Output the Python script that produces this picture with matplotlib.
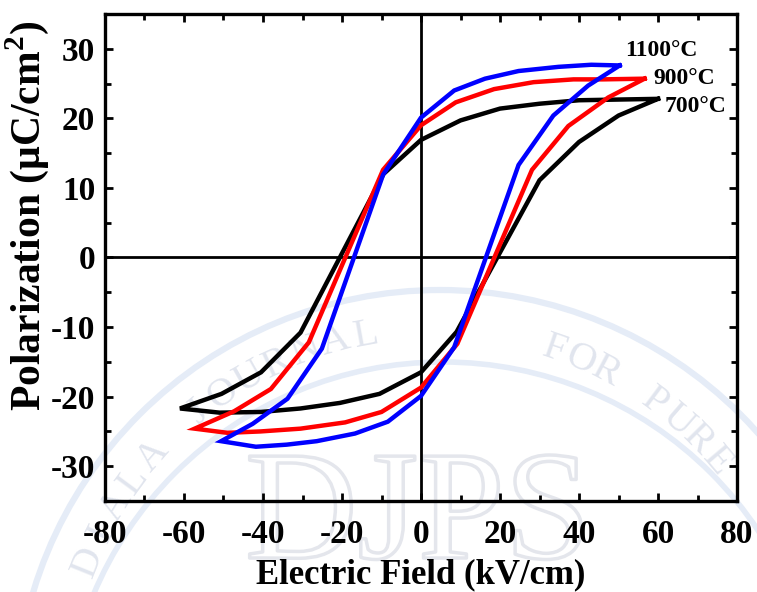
import numpy as np
import matplotlib
matplotlib.use("Agg")
import matplotlib.pyplot as plt
from matplotlib.ticker import MultipleLocator
from matplotlib.patches import Ellipse
import matplotlib.patheffects as pe

plt.rcParams['font.family'] = ['Liberation Serif', 'DejaVu Serif']
plt.rcParams['font.weight'] = 'bold'
plt.rcParams['axes.unicode_minus'] = False
plt.rcParams['mathtext.fontset'] = 'custom'
plt.rcParams['mathtext.rm'] = 'Liberation Serif:bold'
plt.rcParams['mathtext.bf'] = 'Liberation Serif:bold'

# Series data (closed hysteresis loops)
labels = ['700°C', '900°C', '1100°C']
colors = ['black', 'red', 'blue']

x_700 = [60, 50, 40, 30, 20, 10, 0, -9.5, -30.5, -40.5, -50.5, -61,
         -51, -40.5, -30.5, -20.5, -10.5, 0, 9, 30, 40, 50, 60]
y_700 = [22.8, 22.7, 22.6, 22.1, 21.4, 19.7, 16.9, 12.0, -10.8, -16.5, -19.6, -21.7,
         -22.3, -22.2, -21.7, -20.9, -19.6, -16.5, -10.7, 11.1, 16.6, 20.4, 22.8]

x_900 = [56.6, 46, 38.6, 28.5, 18.5, 8.8, 0, -9.6, -28.4, -38, -47.3, -57.3,
         -49, -40.6, -30.5, -19.2, -10, 0, 9.2, 28.1, 37.3, 47.4, 56.6]
y_900 = [25.7, 25.6, 25.6, 25.2, 24.2, 22.3, 19.0, 12.6, -12.2, -18.9, -22.1, -24.6,
         -25.2, -25.0, -24.6, -23.7, -22.2, -18.7, -12.4, 12.6, 18.9, 23.0, 25.7]

x_1100 = [50.3, 43.1, 34.8, 24.7, 16.2, 8.4, 0, -9.6, -25.1, -33.8, -42.6, -50.6,
          -41.8, -34, -26.4, -16.7, -8.4, 0, 8.4, 24.7, 33.5, 42.3, 50.3]
y_1100 = [27.6, 27.7, 27.4, 26.8, 25.7, 24.0, 20.1, 11.9, -13.1, -20.3, -23.9, -26.4,
          -27.2, -26.9, -26.4, -25.3, -23.6, -19.9, -12.9, 13.3, 20.4, 24.7, 27.6]

xs = [x_700, x_900, x_1100]
ys = [y_700, y_900, y_1100]

# label anchor positions (data coords)
label_x = [61.7, 58.7, 51.6]
label_y = [20.9, 25.0, 29.0]

x_ticks = [-80, -60, -40, -20, 0, 20, 40, 60, 80]
y_ticks = [-30, -20, -10, 0, 10, 20, 30]

# watermark texts
wm_left = 'DIALA JOURNAL'
wm_right = 'FOR PURE SCIENCES'
wm_center = 'DJPS'

W, H = 757, 592
fig = plt.figure(figsize=(W / 100, H / 100), dpi=100)

# ---- faint watermark (seal) ----
band = '#e5ecf7'
wm_txt = '#e1e5ee'
def fx(px):
    return px / W
def fy(py):
    return 1 - py / H
for (cx, cy, r, lw) in [(440, 715, 425, 4.5), (443, 741, 379, 4.0)]:
    fig.patches.append(Ellipse((fx(cx), fy(cy)), 2 * r / W, 2 * r / H,
                               transform=fig.transFigure, fill=False,
                               edgecolor=band, lw=lw, zorder=-3))
cxs, cys, R = 433, 701, 372
for txt, th0, step in [(wm_left, -68, 4.8), (wm_right, 19, 4.4)]:
    for i, ch in enumerate(txt):
        if ch == ' ':
            continue
        ang = th0 + i * step
        th = np.deg2rad(ang)
        px = cxs + R * np.sin(th)
        py = cys - R * np.cos(th)
        if px > W - 12 or py > H - 12:
            continue
        fig.text(fx(px), fy(py), ch, fontsize=29, fontweight='normal', color=wm_txt,
                 ha='center', va='center', rotation=-ang,
                 rotation_mode='anchor', zorder=-2)
fig.text(fx(418), fy(591), wm_center, fontsize=112, fontweight='normal', color='white',
         ha='center', va='bottom', zorder=-4,
         path_effects=[pe.Stroke(linewidth=2.5, foreground='#e4e6ec')])

ax = fig.add_axes([0.1387, 0.1537, 0.9736 - 0.1387, 0.9764 - 0.1537])
ax.patch.set_alpha(0)

ax.axhline(0, color='black', lw=2.0, zorder=1)
ax.axvline(0, color='black', lw=2.0, zorder=1)

for x, y, c in zip(xs, ys, colors):
    ax.plot(x, y, color=c, lw=3.2, solid_joinstyle='miter', zorder=3)

for lx, ly, t in zip(label_x, label_y, labels):
    ax.text(lx, ly, t, fontsize=17, fontweight='bold', ha='left', va='baseline', zorder=4)

ax.set_xlim(-80, 80)
ax.set_ylim(-35, 35)
ax.set_xticks(x_ticks)
ax.set_yticks(y_ticks)
ax.xaxis.set_minor_locator(MultipleLocator(10))
ax.yaxis.set_minor_locator(MultipleLocator(5))
ax.tick_params(which='both', direction='in', top=True, right=True, width=2)
ax.tick_params(which='major', length=6)
ax.tick_params(which='minor', length=4)
ax.tick_params(axis='x', which='major', labelsize=24, pad=13)
ax.tick_params(axis='y', which='major', labelsize=24, pad=7)
for lab in ax.get_xticklabels() + ax.get_yticklabels():
    lab.set_fontweight('bold')
for s in ax.spines.values():
    s.set_linewidth(2.4)

ax.set_xlabel('Electric Field (kV/cm)', fontsize=25, fontweight='bold', labelpad=6)
ax.set_ylabel('Polarization (μC/cm$^{\\mathbf{2}}$)', fontsize=30, fontweight='bold')
ax.yaxis.set_label_coords(-0.085, 0.585)

fig.savefig('out.png', dpi=100)
